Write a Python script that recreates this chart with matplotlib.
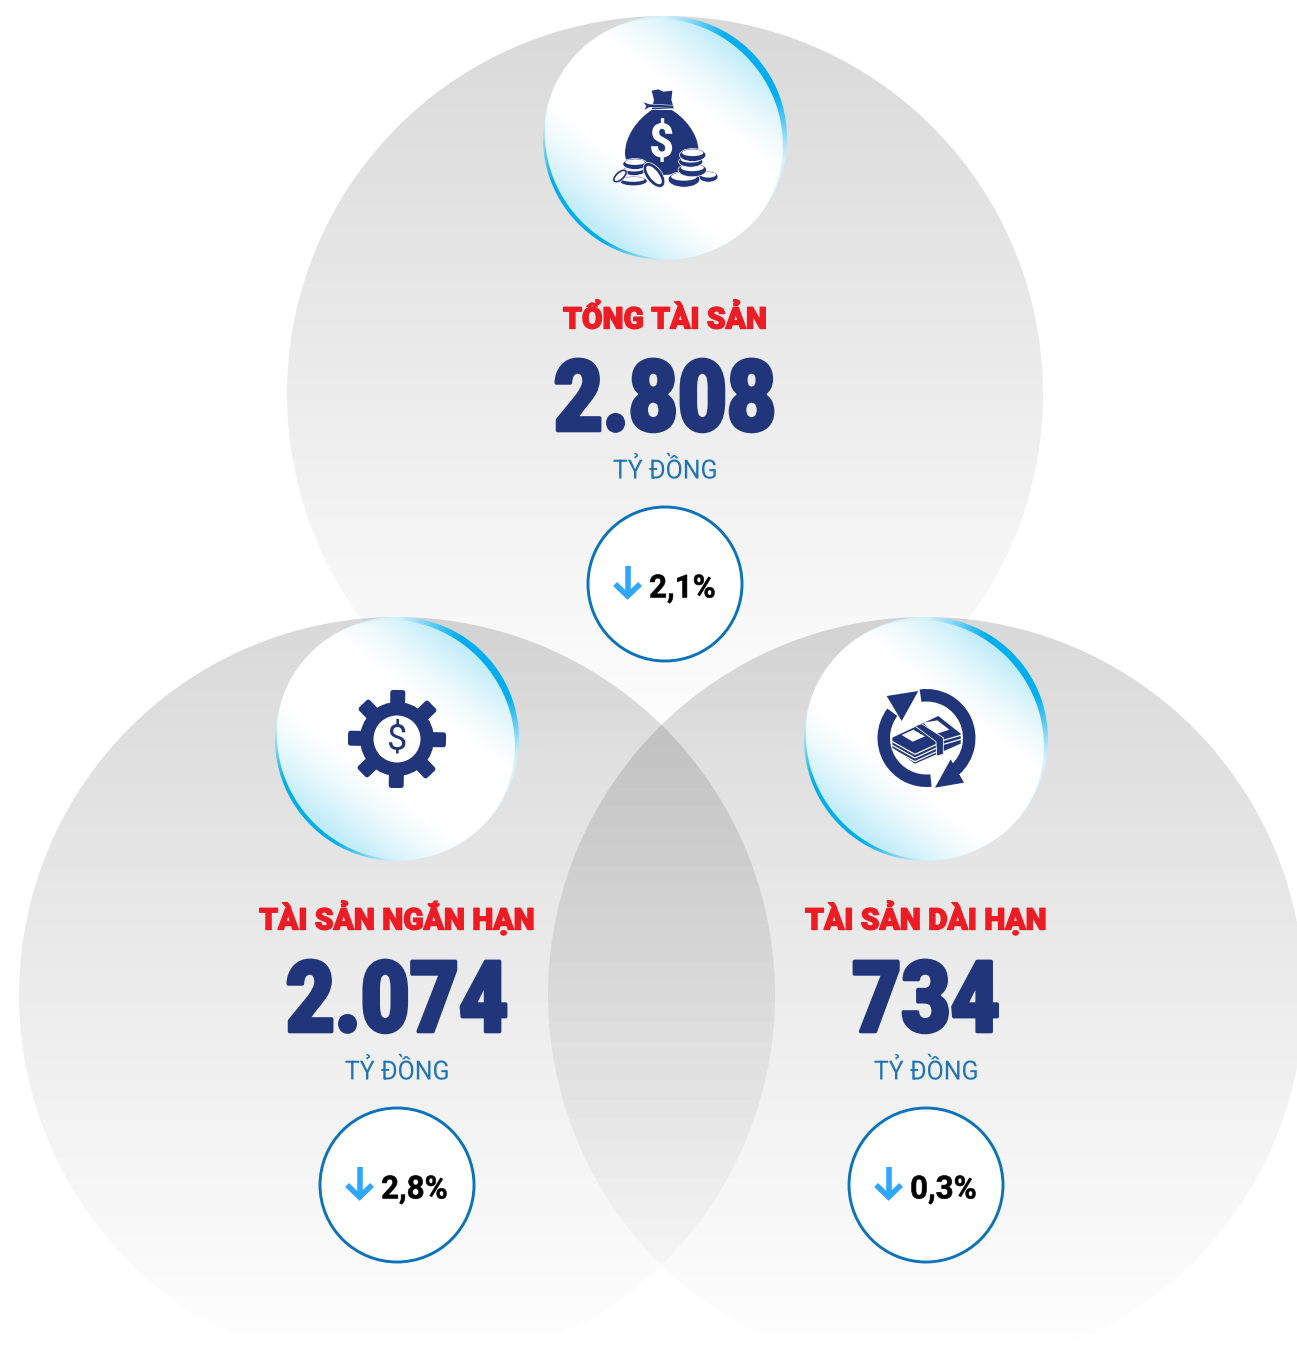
import numpy as np
import matplotlib
matplotlib.use('Agg')
import matplotlib.pyplot as plt
import matplotlib.patheffects as pe
from matplotlib.patches import Circle, Ellipse, Polygon, Wedge, PathPatch
from matplotlib.path import Path
from matplotlib.transforms import Affine2D

# data
labels = ['TỔNG TÀI SẢN', 'TÀI SẢN NGẮN HẠN', 'TÀI SẢN DÀI HẠN']
values = [2808, 2074, 734]
changes = [2.1, 2.8, 0.3]
unit = 'TỶ ĐỒNG'

W, H = 1297, 1346
centers = [(665, 394), (397, 995), (926, 995)]
big_r = 378
small_r = 122
NAVY = '#21367a'
RED = '#ed1c24'
BLUE = '#1f73b7'
RING = '#0b73bb'
ARROW = '#2fa6ff'

fig = plt.figure(figsize=(W / 100, H / 100), dpi=100)
ax = fig.add_axes([0, 0, 1, 1])
ax.set_xlim(0, W)
ax.set_ylim(H, 0)
ax.axis('off')

yy, xx = np.mgrid[0:H, 0:W] + 0.5


class Squeeze(pe.AbstractPathEffect):
    # the reference font is narrower than any installed one, so scale glyphs in x
    def __init__(self, x, sx, stroke=0.0):
        super().__init__()
        self.x, self.sx, self.stroke = x, sx, stroke

    def draw_path(self, renderer, gc, tpath, affine, rgbFace):
        t = affine + Affine2D().translate(-self.x, 0).scale(self.sx, 1).translate(self.x, 0)
        gc0 = renderer.new_gc()
        gc0.copy_properties(gc)
        if self.stroke > 0 and rgbFace is not None:
            gc0.set_linewidth(self.stroke)
            gc0.set_foreground(rgbFace)
        else:
            gc0.set_linewidth(0)
        renderer.draw_path(gc0, tpath, t, rgbFace)
        gc0.restore()


def disc_alpha(cx, cy, r):
    return np.clip(r - np.hypot(xx - cx, yy - cy) + 0.5, 0, 1)


def show(rgb, alpha, z):
    ax.imshow(np.dstack([rgb, alpha]), extent=(0, W, H, 0), aspect='auto',
              interpolation='nearest', zorder=z)


# big circles, black with falling alpha works like a multiply blend
for cx, cy in centers:
    t = np.clip((yy - (cy - big_r)) / (2 * big_r), 0, 1)
    shade = (1 - t) * 0.152
    show(np.zeros((H, W, 3)), shade * disc_alpha(cx, cy, big_r), 1)


def glass(cx, cy):
    a = np.radians(40)
    dx = xx - cx
    dy = cy - yy
    u = (dx * np.cos(a) + dy * np.sin(a))
    v = (-dx * np.sin(a) + dy * np.cos(a))
    # outer rim, cyan near the short axis of the inner ellipse
    ang = np.abs(u) / np.maximum(np.hypot(u, v), 1)
    k = np.clip((ang - 0.62) / 0.33, 0, 1) ** 1.5
    rim0 = np.array([0.84, 0.95, 0.99])
    rim1 = np.array([0.0, 0.68, 0.94])
    rgb = rim0 + (rim1 - rim0) * k[..., None]
    show(rgb, disc_alpha(cx, cy, small_r), 3)
    # inner glass, slightly squeezed ellipse with pale blue at the two ends
    e = np.hypot((u + 1.5) / 116.5, v / 122.5)
    ea = np.clip((1 - e) * 118 + 0.5, 0, 1)
    a2 = np.radians(52)
    u2 = (dx * np.cos(a2) + dy * np.sin(a2)) / small_r
    tint = np.clip((np.abs(u2) - 0.32) / 0.6, 0, 1) ** 1.5 * 0.8
    white = np.array([1.0, 1.0, 1.0])
    pale = np.array([0.70, 0.91, 0.97])
    rgb2 = white + (pale - white) * tint[..., None]
    show(rgb2, ea * disc_alpha(cx, cy, small_r), 4)


def zoom_xy(pts, cx, cy, ox, oy):
    # icon points were read in 3x crop pixels, ox/oy is the crop centre there
    return [(cx + (x - ox) / 3, cy + (y - oy) / 3) for x, y in pts]


def icon_bag(cx, cy):
    ox, oy = 405, 414
    z = lambda pts: zoom_xy(pts, cx, cy, ox, oy)
    verts = z([(365, 330), (320, 360), (285, 410), (285, 460), (285, 490), (310, 520), (395, 525),
               (480, 525), (505, 480), (505, 450), (505, 400), (460, 350), (425, 330), (365, 330)])
    codes = [Path.MOVETO] + [Path.CURVE4] * 12 + [Path.CLOSEPOLY]
    ax.add_patch(PathPatch(Path(verts, codes), fc=NAVY, ec='none', zorder=5))
    ax.add_patch(Polygon(z([(365, 272), (385, 268), (400, 275), (427, 272), (424, 300), (432, 326),
                            (365, 328), (372, 300)]), fc=NAVY, ec='none', zorder=5))
    ax.add_patch(Polygon(z([(338, 305), (358, 312), (430, 316), (430, 325), (358, 322), (342, 332),
                            (348, 318)]), fc=NAVY, ec='white', lw=0.4, zorder=5))
    sx_ = cx + (395 - ox) / 3
    ax.text(sx_, cy + (432 - oy) / 3, '$', color='white', fontsize=34, family='Roboto',
            weight=900, ha='center', va='center', zorder=6, path_effects=[Squeeze(sx_, 0.9)])
    coins = [(310, 543, 80, 26, 0), (312, 512, 66, 26, 0), (315, 492, 70, 30, 0), (270, 528, 26, 50, 48),
             (372, 525, 44, 84, -38), (535, 530, 55, 30, 0), (462, 538, 92, 44, 0),
             (487, 510, 82, 38, 0), (482, 485, 70, 30, 0), (488, 465, 76, 36, 0)]
    for x, y, w, h, rot in coins:
        (px, py), = z([(x, y)])
        ax.add_patch(Ellipse((px, py), w / 3 + 1, h / 3 + 1, angle=rot, fc=NAVY, ec='white', lw=0.5, zorder=7))
        if rot:
            ax.add_patch(Ellipse((px, py), w / 3 * 0.62, h / 3 * 0.8, angle=rot, fc='white', ec='none', zorder=7))
        else:
            ax.add_patch(Ellipse((px, py - h / 16), w / 3 * 0.84, h / 3 * 0.56, fc='white', ec='none', zorder=7))


def icon_gear(cx, cy):
    for k in range(8):
        a = np.radians(k * 45 + 1)
        ca, sa = np.cos(a), np.sin(a)
        pts = [(cx + r * ca - s * sa, cy + r * sa + s * ca) for r, s in [(30, -5), (46.5, -5), (46.5, 5), (30, 5)]]
        ax.add_patch(Polygon(pts, fc=NAVY, ec=NAVY, lw=3.6, joinstyle='round', zorder=5))
    ax.add_patch(Circle((cx, cy), 37, fc=NAVY, ec='none', zorder=5))
    ax.add_patch(Circle((cx, cy), 23.5, fc='white', ec='none', zorder=6))
    ax.text(cx, cy + 0.5, '$', color=NAVY, fontsize=26, family='Roboto', weight=400,
            ha='center', va='center', zorder=7)


def icon_cycle(cx, cy):
    ox, oy = 198, 204
    z = lambda pts: zoom_xy(pts, cx, cy, ox, oy)
    c = (cx + 0.5, cy - 1)
    ax.add_patch(Wedge(c, 49, -98, 48, width=12.5, fc=NAVY, ec='none', zorder=5))
    ax.add_patch(Wedge(c, 49, 84, 217, width=12.5, fc=NAVY, ec='none', zorder=5))
    ax.add_patch(Polygon(z([(272, 265), (312, 335), (225, 350)]), fc=NAVY, ec='none', zorder=5))
    ax.add_patch(Polygon(z([(80, 75), (175, 60), (125, 150)]), fc=NAVY, ec='none', zorder=5))
    ax.add_patch(Polygon(z([(97, 200), (235, 135), (302, 188), (302, 218), (165, 278), (97, 230)]),
                         fc=NAVY, ec='none', zorder=5))
    for d in [212, 223, 234]:
        ax.plot(*zip(*z([(97, d), (165, d + 38), (230, d + 8)])), color='white', lw=0.9, zorder=6)
    for d in [200, 212]:
        ax.plot(*zip(*z([(250, d + 8), (302, d - 15 + 8)])), color='white', lw=0.9, zorder=6)
    ax.add_patch(Polygon(z([(125, 192), (160, 176), (195, 196), (158, 212)]), fc='white', ec='none', zorder=6))
    ax.add_patch(Polygon(z([(190, 155), (232, 148), (268, 176), (225, 190)]), fc='white', ec='none', zorder=6))
    ax.add_patch(Polygon(z([(165, 165), (185, 158), (250, 200), (250, 250), (230, 255), (228, 212)]),
                         fc=NAVY, ec='white', lw=0.6, zorder=7))


icons = [icon_bag, icon_gear, icon_cycle]
renderer = fig.canvas.get_renderer()

for label, value, change, (cx, cy), icon in zip(labels, values, changes, centers, icons):
    top = cy - big_r + small_r
    glass(cx, top)
    icon(cx, top)
    ax.text(cx, top + 190.5, label, color=RED, fontsize=21.5, family='Roboto', weight=900,
            ha='center', va='baseline', zorder=8, path_effects=[Squeeze(cx, 1.0, stroke=1.0)])
    ax.text(cx, top + 292.5, f'{value:,}'.replace(',', '.'), color=NAVY, fontsize=71,
            family='Roboto', weight=900, ha='center', va='baseline', zorder=8,
            path_effects=[Squeeze(cx, 0.86, stroke=2.6)])
    ax.text(cx, top + 340.5, unit, color=BLUE, fontsize=19, family='Roboto', weight=400,
            ha='center', va='baseline', zorder=8, path_effects=[Squeeze(cx, 0.945)])
    by = top + 446
    ax.add_patch(Circle((cx, by), 77, fc='white', ec=RING, lw=2.1, zorder=8))
    sx = 0.98
    tx = cx + 17.5
    t = ax.text(tx, by + 13.5, f'{change:.1f}'.replace('.', ',') + '%', color='black', fontsize=23,
                family='Roboto', weight=700, ha='center', va='baseline', zorder=9,
                path_effects=[Squeeze(tx, sx, stroke=0.4)])
    bb = t.get_window_extent(renderer)
    ax_x = tx - bb.width * sx / 2 - 21.5
    ax.plot([ax_x, ax_x], [by - 18.5, by + 11.5], color=ARROW, lw=4, solid_capstyle='butt', zorder=9)
    ax.plot([ax_x - 12.5, ax_x, ax_x + 12.5], [by, by + 12, by], color=ARROW, lw=4,
            solid_joinstyle='miter', solid_capstyle='butt', zorder=9)

ax.set_xlim(0, W)
ax.set_ylim(H, 0)
fig.savefig('out.png', dpi=100)
